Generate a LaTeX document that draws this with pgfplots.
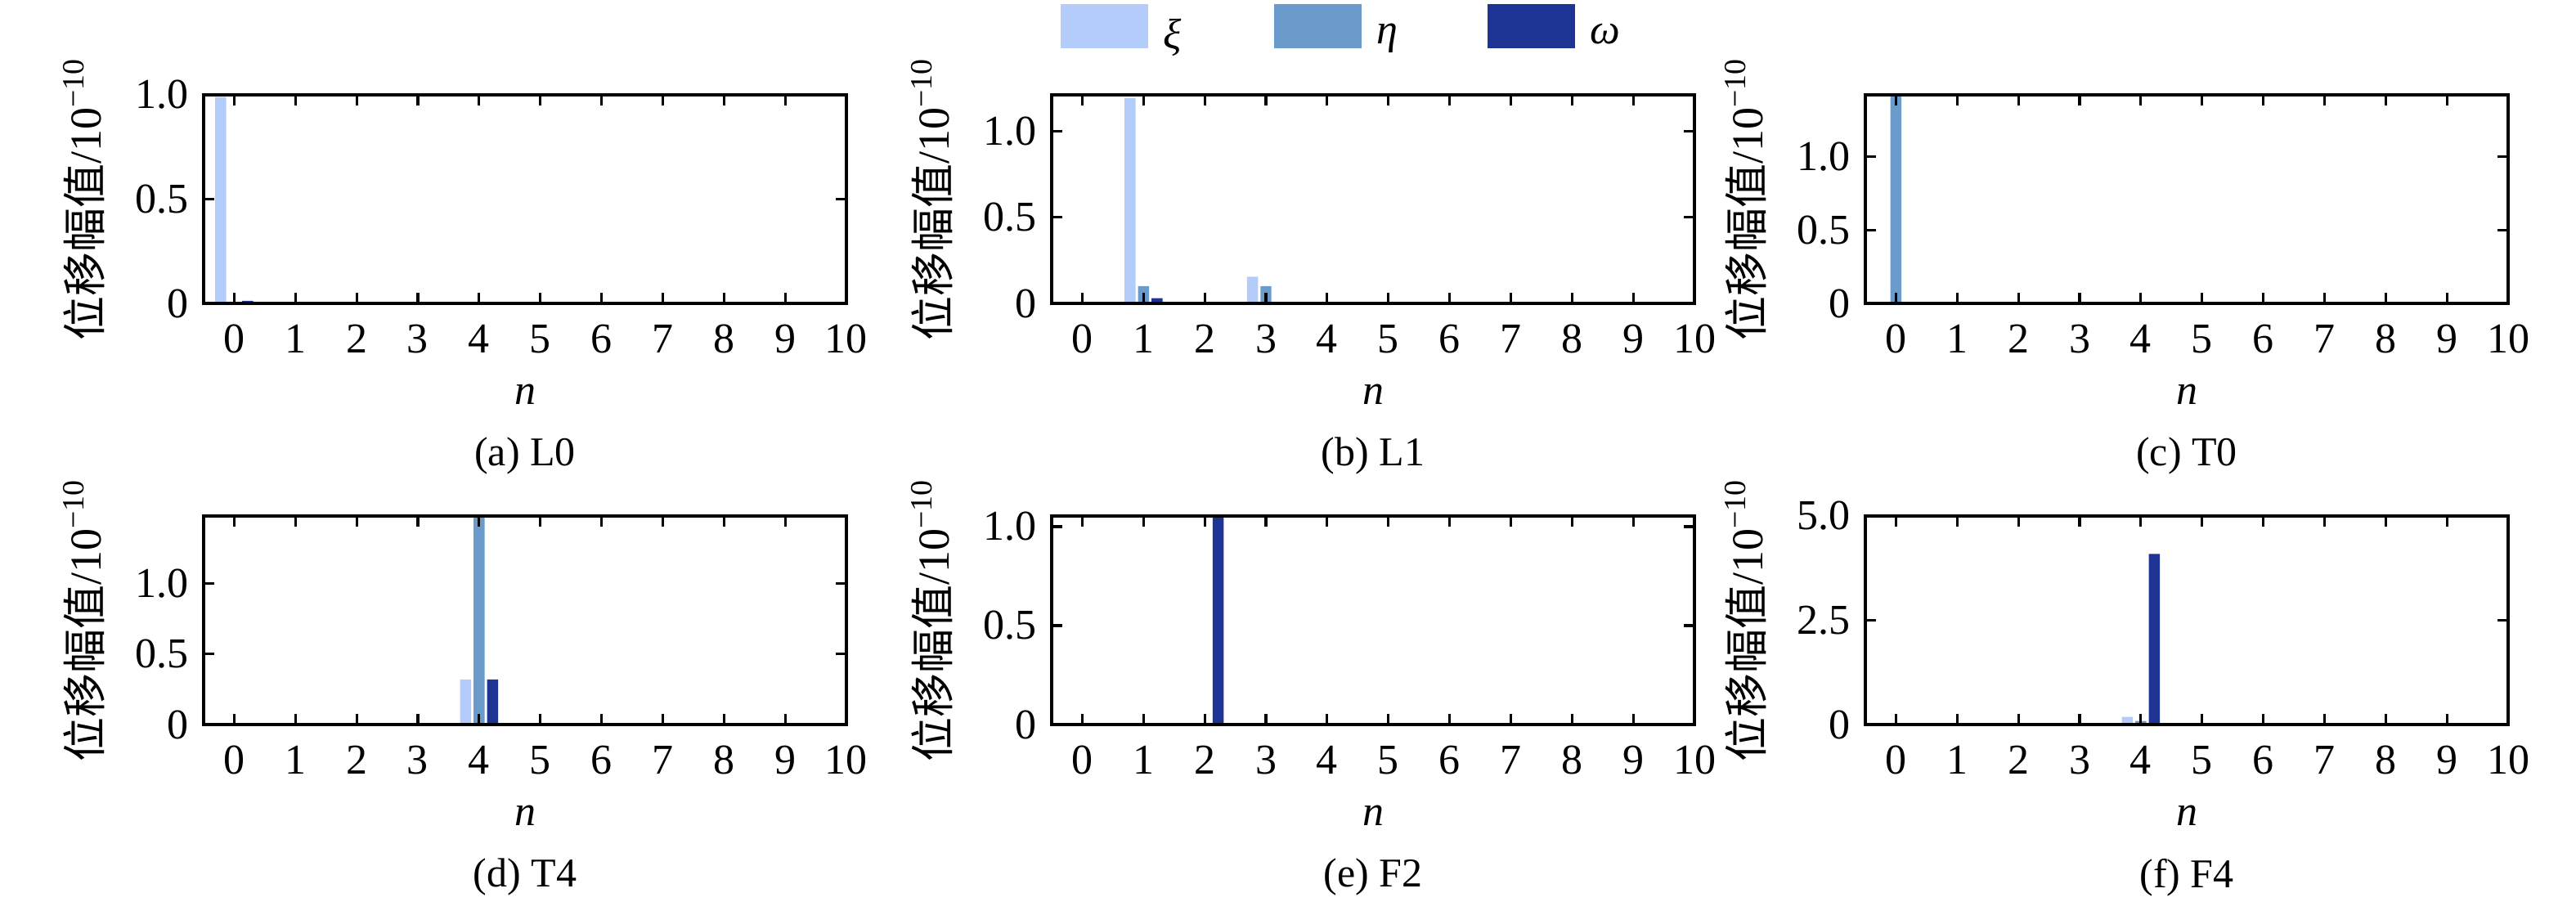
\documentclass[border=0pt]{standalone}
\usepackage{fontspec}
\setmainfont{Liberation Serif}
\newfontfamily\cjk{Noto Sans CJK SC}
\usepackage{pgfplots}
\pgfplotsset{compat=1.18}
\usepackage{pgfplotstable}

\definecolor{cxi}{HTML}{B3CCFA}
\definecolor{ceta}{HTML}{6A9BCB}
\definecolor{come}{HTML}{1E3494}

\pgfplotstableread{
n xi eta omega
0 0.99 0 0.012
1 0 0 0
2 0 0 0
3 0 0 0
4 0 0 0
5 0 0 0
6 0 0 0
7 0 0 0
8 0 0 0
9 0 0 0
}\tabA
\pgfplotstableread{
n xi eta omega
0 0 0 0
1 1.19 0.10 0.03
2 0 0 0
3 0.155 0.10 0
4 0 0 0
5 0 0 0
6 0 0 0
7 0 0 0
8 0 0 0
9 0 0 0
}\tabB
\pgfplotstableread{
n xi eta omega
0 0 1.42 0
1 0 0 0
2 0 0 0
3 0 0 0
4 0 0 0
5 0 0 0
6 0 0 0
7 0 0 0
8 0 0 0
9 0 0 0
}\tabC
\pgfplotstableread{
n xi eta omega
0 0 0 0
1 0 0 0
2 0 0 0
3 0 0 0
4 0.32 1.48 0.32
5 0 0 0
6 0 0 0
7 0 0 0
8 0 0 0
9 0 0 0
}\tabD
\pgfplotstableread{
n xi eta omega
0 0 0 0
1 0 0 0
2 0 0 1.054
3 0 0 0
4 0 0 0
5 0 0 0
6 0 0 0
7 0 0 0
8 0 0 0
9 0 0 0
}\tabE
\pgfplotstableread{
n xi eta omega
0 0 0 0
1 0 0 0
2 0 0 0
3 0 0 0
4 0.185 0.087 4.09
5 0 0 0
6 0 0 0
7 0 0 0
8 0 0 0
9 0 0 0
}\tabF

\pgfplotsset{
  panel/.style={
    width=196.5pt, height=63.75pt, scale only axis,
    xmin=-0.5, xmax=10, ymin=0,
    xtick={0,1,2,3,4,5,6,7,8,9,10},
    ytick={0,0.5,1}, yticklabels={0,0.5,1.0},
    minor tick num=0,
    tick align=inside, xtick pos=both, ytick pos=both,
    major tick length=3.25pt,
    axis line style={line width=0.9pt},
    every tick/.style={black, line width=0.8pt},
    axis on top,
    /pgf/number format/assume math mode=true,
    tick label style={font=\fontsize{13}{15}\selectfont},
    xticklabel style={yshift=-3pt},
    yticklabel style={xshift=-1pt},
    xlabel={\textit{n}},
    every axis x label/.style={at={(axis description cs:0.5,-0.435)}, anchor=center, font=\fontsize{13}{15}\selectfont},
    ylabel={{\cjk 位移幅值}/10\textsuperscript{−10}},
    every axis y label/.style={at={(axis description cs:-0.1857,0.5)}, rotate=90, anchor=center, font=\fontsize{13.5}{15}\selectfont},
    every axis title/.style={at={(axis description cs:0.5,-0.733)}, anchor=center, font=\fontsize{12.5}{15}\selectfont},
  },
  bxi/.style={ybar, bar width=0.18, bar shift=-0.22, fill=cxi, draw=none},
  beta/.style={ybar, bar width=0.18, bar shift=0, fill=ceta, draw=none},
  bome/.style={ybar, bar width=0.18, bar shift=0.22, fill=come, draw=none},
}

\begin{document}
\begin{tikzpicture}
\useasboundingbox (0,0) rectangle (787.5pt,275.75pt);

% (a) L0
\begin{axis}[panel, at={(62.25pt,183pt)}, anchor=south west, ymax=1.0, title={(a) L0}]
\addplot[bxi] table[x=n,y=xi]{\tabA};
\addplot[beta] table[x=n,y=eta]{\tabA};
\addplot[bome] table[x=n,y=omega]{\tabA};
\end{axis}

% (b) L1
\begin{axis}[panel, at={(321.5pt,183pt)}, anchor=south west, ymax=1.21, title={(b) L1},
  legend columns=3,
  legend style={at={(axis description cs:0.0127,1.3164)}, anchor=west, draw=none, fill=none,
    inner sep=0pt, font=\fontsize{13}{15}\selectfont,
    nodes={inner sep=0pt, text width=33.75pt, align=left},
    /tikz/every odd column/.append style={column sep=4.75pt},
    /tikz/every even column/.append style={column sep=0pt}},
]
\addplot[bxi, legend image code/.code={\fill[cxi] (0pt,-3.8pt) rectangle (26.75pt,9.7pt);}] table[x=n,y=xi]{\tabB};
\addlegendentry{\textit{ξ}}
\addplot[beta, legend image code/.code={\fill[ceta] (0pt,-3.8pt) rectangle (26.75pt,9.7pt);}] table[x=n,y=eta]{\tabB};
\addlegendentry{\textit{η}}
\addplot[bome, legend image code/.code={\fill[come] (0pt,-3.8pt) rectangle (26.75pt,9.7pt);}] table[x=n,y=omega]{\tabB};
\addlegendentry{\textit{ω}}
\end{axis}

% (c) T0
\begin{axis}[panel, at={(570.25pt,183pt)}, anchor=south west, ymax=1.42, title={(c) T0}]
\addplot[bxi] table[x=n,y=xi]{\tabC};
\addplot[beta] table[x=n,y=eta]{\tabC};
\addplot[bome] table[x=n,y=omega]{\tabC};
\end{axis}

% (d) T4
\begin{axis}[panel, at={(62.25pt,54.25pt)}, anchor=south west, ymax=1.48, title={(d) T4}]
\addplot[bxi] table[x=n,y=xi]{\tabD};
\addplot[beta] table[x=n,y=eta]{\tabD};
\addplot[bome] table[x=n,y=omega]{\tabD};
\end{axis}

% (e) F2
\begin{axis}[panel, at={(321.5pt,54.25pt)}, anchor=south west, ymax=1.054, title={(e) F2}]
\addplot[bxi] table[x=n,y=xi]{\tabE};
\addplot[beta] table[x=n,y=eta]{\tabE};
\addplot[bome] table[x=n,y=omega]{\tabE};
\end{axis}

% (f) F4
\begin{axis}[panel, at={(570.25pt,54.25pt)}, anchor=south west, ymax=5.0, title={(f) F4},
  ytick={0,2.5,5}, yticklabels={0,2.5,5.0}]
\addplot[bxi] table[x=n,y=xi]{\tabF};
\addplot[beta] table[x=n,y=eta]{\tabF};
\addplot[bome] table[x=n,y=omega]{\tabF};
\end{axis}
\end{tikzpicture}
\end{document}
